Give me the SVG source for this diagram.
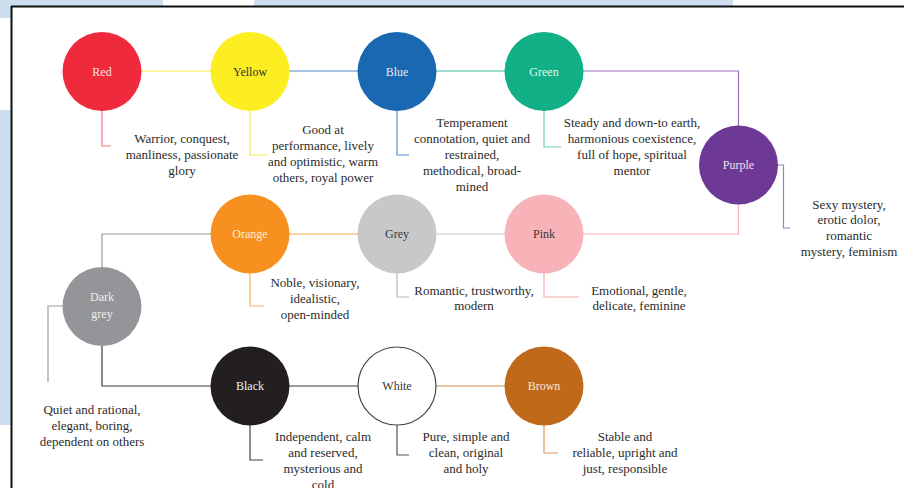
<svg xmlns="http://www.w3.org/2000/svg" width="904" height="488" viewBox="0 0 904 488">
<style>
.c{stroke:none}
.n{font-family:"Liberation Serif","Times New Roman",serif;font-size:12px;text-anchor:middle}
.t{font-family:"Liberation Serif","Times New Roman",serif;font-size:13px;text-anchor:middle;fill:#2b2b2b}
.l{fill:none;stroke-width:1.2}
</style>
<rect x="0" y="0" width="904" height="488" fill="#ffffff"/>
<g id="page-bg">
<rect x="0" y="0" width="163" height="6" fill="#cddfee"/>
<rect x="254" y="0" width="479" height="6" fill="#cddfee"/>
<rect x="0" y="6" width="11" height="12" fill="#cddfee"/>
<rect x="0" y="110" width="11" height="315" fill="#cddfee"/>
</g>
<g id="frame" fill="none" stroke="#111">
<line x1="11" y1="6.5" x2="904" y2="6.5" stroke-width="2"/>
<line x1="11.5" y1="6" x2="11.5" y2="488" stroke-width="2"/>
</g>
<g id="connectors" class="l">
<line x1="141" y1="71" x2="212" y2="71" stroke="#f6e64a"/>
<line x1="288" y1="71" x2="359" y2="71" stroke="#4c86c6"/>
<line x1="435" y1="71" x2="506" y2="71" stroke="#3dbf98"/>
<polyline points="582,71 738.5,71 738.5,127" stroke="#9b6fb8"/>
<polyline points="738.5,203 738.5,234 582,234" stroke="#f7b3b8"/>
<line x1="435" y1="234" x2="506" y2="234" stroke="#c8c8c8"/>
<line x1="288" y1="234" x2="359" y2="234" stroke="#f9a94a"/>
<polyline points="212,234 102,234 102,268" stroke="#9a9a9a"/>
<polyline points="102,345 102,386 212,386" stroke="#3a3a3a"/>
<line x1="288" y1="386" x2="359" y2="386" stroke="#3a3a3a"/>
<line x1="435" y1="386" x2="506" y2="386" stroke="#d68b4a"/>
<polyline points="102,110 102,146 111,146" stroke="#f37584"/>
<polyline points="250,110 250,155 268,155" stroke="#f8ec52"/>
<polyline points="397,110 397,155 409,155" stroke="#5a8fd0"/>
<polyline points="544,110 544,147 561,147" stroke="#6fd1b3"/>
<polyline points="777,165 783.5,165 783.5,228 790,228" stroke="#a07cc0"/>
<polyline points="250,272 250,306 264,306" stroke="#f9b060"/>
<polyline points="397,272 397,297 409,297" stroke="#b8b8b8"/>
<polyline points="544,272 544,297 579,297" stroke="#f6a9b0"/>
<polyline points="64,306 48,306 48,382" stroke="#a0a0a0"/>
<polyline points="250,424 250,460 263,460" stroke="#444"/>
<polyline points="397,424 397,455 409,455" stroke="#555"/>
<polyline points="544,424 544,453 558,453" stroke="#dc9a60"/>
</g>
<g id="red"><circle cx="102" cy="71.5" r="39.5" fill="#ef2a3c"/><text class="n" x="102" y="75.5" fill="#fbe3e4">Red</text>
<text class="t" x="182" y="143">Warrior, conquest,</text><text class="t" x="182" y="159">manliness, passionate</text><text class="t" x="182" y="175">glory</text></g>
<g id="yellow"><circle cx="250" cy="71.5" r="39.5" fill="#fcee21"/><text class="n" x="250" y="75.5" fill="#333">Yellow</text>
<text class="t" x="323" y="134">Good at</text><text class="t" x="323" y="150">performance, lively</text><text class="t" x="323" y="166">and optimistic, warm</text><text class="t" x="323" y="182">others, royal power</text></g>
<g id="blue"><circle cx="397" cy="71.5" r="39.5" fill="#1a67b2"/><text class="n" x="397" y="75.5" fill="#e3ecf6">Blue</text>
<text class="t" x="472" y="127">Temperament</text><text class="t" x="472" y="143">connotation, quiet and</text><text class="t" x="472" y="159">restrained,</text><text class="t" x="472" y="175">methodical, broad-</text><text class="t" x="472" y="191">mined</text></g>
<g id="green"><circle cx="544" cy="71.5" r="39.5" fill="#12b087"/><text class="n" x="544" y="75.5" fill="#e3f6f0">Green</text>
<text class="t" x="632" y="127">Steady and down-to earth,</text><text class="t" x="632" y="143">harmonious coexistence,</text><text class="t" x="632" y="159">full of hope, spiritual</text><text class="t" x="632" y="175">mentor</text></g>
<g id="purple"><circle cx="738.5" cy="165" r="39.5" fill="#6e3895"/><text class="n" x="738.5" y="169" fill="#ece4f2">Purple</text>
<text class="t" x="849" y="209">Sexy mystery,</text><text class="t" x="849" y="224">erotic dolor,</text><text class="t" x="849" y="240">romantic</text><text class="t" x="849" y="256">mystery, feminism</text></g>
<g id="orange"><circle cx="250" cy="234" r="39.5" fill="#f7901e"/><text class="n" x="250" y="238" fill="#fdeedd">Orange</text>
<text class="t" x="315" y="287">Noble, visionary,</text><text class="t" x="315" y="303">idealistic,</text><text class="t" x="315" y="319">open-minded</text></g>
<g id="grey"><circle cx="397" cy="234" r="39.5" fill="#c7c8ca"/><text class="n" x="397" y="238" fill="#3a3a3a">Grey</text>
<text class="t" x="474" y="295">Romantic, trustworthy,</text><text class="t" x="474" y="310">modern</text></g>
<g id="pink"><circle cx="544" cy="234" r="39.5" fill="#f7b3b8"/><text class="n" x="544" y="238" fill="#3a3a3a">Pink</text>
<text class="t" x="639" y="295">Emotional, gentle,</text><text class="t" x="639" y="310">delicate, feminine</text></g>
<g id="darkgrey"><circle cx="102" cy="306.5" r="39.5" fill="#939598"/><text class="n" x="102" y="301" fill="#eeeeee">Dark</text><text class="n" x="102" y="318" fill="#eeeeee">grey</text>
<text class="t" x="92" y="414">Quiet and rational,</text><text class="t" x="92" y="430">elegant, boring,</text><text class="t" x="92" y="446">dependent on others</text></g>
<g id="black"><circle cx="250" cy="386" r="39.5" fill="#231f20"/><text class="n" x="250" y="390" fill="#eeeeee">Black</text>
<text class="t" x="323" y="441">Independent, calm</text><text class="t" x="323" y="457">and reserved,</text><text class="t" x="323" y="473">mysterious and</text><text class="t" x="323" y="489">cold</text></g>
<g id="white"><circle cx="397" cy="386" r="39" fill="#ffffff" stroke="#444" stroke-width="1.2"/><text class="n" x="397" y="390" fill="#333">White</text>
<text class="t" x="466" y="441">Pure, simple and</text><text class="t" x="466" y="457">clean, original</text><text class="t" x="466" y="473">and holy</text></g>
<g id="brown"><circle cx="544" cy="386" r="39.5" fill="#c1691b"/><text class="n" x="544" y="390" fill="#f6e6d6">Brown</text>
<text class="t" x="625" y="441">Stable and</text><text class="t" x="625" y="457">reliable, upright and</text><text class="t" x="625" y="473">just, responsible</text></g>
</svg>
